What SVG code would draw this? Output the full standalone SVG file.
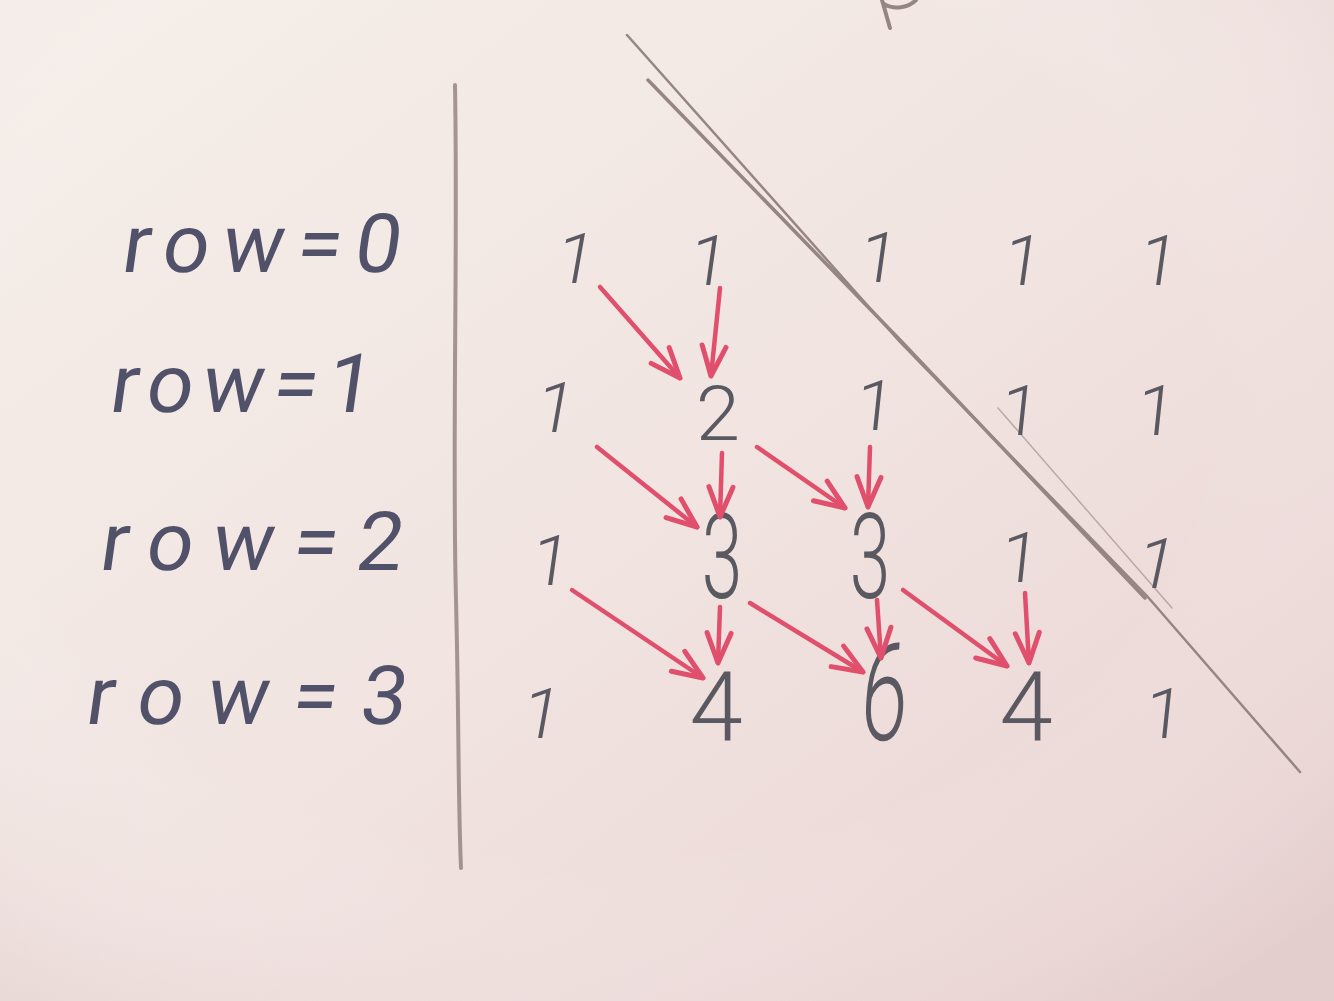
<svg xmlns="http://www.w3.org/2000/svg" width="1334" height="1001" viewBox="0 0 1334 1001">
<style>
.lbl{font-family:"Roboto","Open Sans","Liberation Sans",sans-serif;font-weight:400;font-size:82px;fill:#52516a;}
.num{font-family:"Roboto","Open Sans","Liberation Sans",sans-serif;font-weight:300;fill:#5a5962;text-anchor:middle;}
.one{font-size:70px;}
.pencil{fill:none;stroke:#958583;stroke-linecap:round;}
.arrow{fill:none;stroke:#e04f6c;stroke-width:4.5;stroke-linecap:round;stroke-linejoin:round;marker-end:url(#ah);}
</style>
<defs>
<linearGradient id="bg" x1="0" y1="0" x2="1" y2="1">
<stop offset="0" stop-color="#f5efea"/>
<stop offset="0.5" stop-color="#f1e4e1"/>
<stop offset="1" stop-color="#e9d2d2"/>
</linearGradient>
<radialGradient id="vig" cx="0.45" cy="0.4" r="0.75">
<stop offset="0.6" stop-color="#ffffff" stop-opacity="0"/>
<stop offset="1" stop-color="#d9c2c2" stop-opacity="0.35"/>
</radialGradient>
<marker id="ah" markerUnits="userSpaceOnUse" markerWidth="40" markerHeight="40" viewBox="-34 -16 40 32" refX="0" refY="0" orient="auto">
<path d="M-30,-12 L0,0 L-30,12" fill="none" stroke="#e04f6c" stroke-width="5" stroke-linecap="round" stroke-linejoin="round"/>
</marker>
</defs>
<rect width="1334" height="1001" fill="url(#bg)"/>
<rect width="1334" height="1001" fill="url(#vig)"/>

<g id="frame">
<path class="pencil" d="M455,85 C458,250 452,450 456,600 C459,720 458,800 461,868" stroke-width="4" opacity="0.85"/>
<path class="pencil" d="M627,35 L900,342 L1147,596 L1300,772" stroke-width="2.5"/>
<path class="pencil" d="M648,80 L900,340 L1145,598" stroke-width="3.5"/>
<path class="pencil" d="M998,408 L1172,608" stroke-width="1.5" opacity="0.6"/>
<path class="pencil" d="M882,0 L890,28 M884,4 C894,10 908,8 916,0" stroke="#7a6e6f" stroke-width="4"/>
</g>

<g id="labels">
<g id="label-row0"><text class="lbl" transform="translate(120,272) skewX(-8)" textLength="278" lengthAdjust="spacing">row=0</text></g>
<g id="label-row1"><text class="lbl" transform="translate(108,412) skewX(-8)" textLength="262" lengthAdjust="spacing">row=1</text></g>
<g id="label-row2"><text class="lbl" transform="translate(98,570) skewX(-8)" textLength="302" lengthAdjust="spacing">row=2</text></g>
<g id="label-row3"><text class="lbl" transform="translate(84,724) skewX(-8)" textLength="320" lengthAdjust="spacing">row=3</text></g>
</g>

<g id="row0">
<g id="r0c0"><text class="num one" transform="translate(572,283) skewX(-10)">1</text></g>
<g id="r0c1"><text class="num one" transform="translate(706,285) skewX(-8)">1</text></g>
<g id="r0c2"><text class="num one" transform="translate(876,282) skewX(-8)">1</text></g>
<g id="r0c3"><text class="num one" transform="translate(1020,285) skewX(-8)">1</text></g>
<g id="r0c4"><text class="num one" transform="translate(1156,285) skewX(-8)">1</text></g>
</g>
<g id="row1">
<g id="r1c0"><text class="num one" transform="translate(552,432) skewX(-10)">1</text></g>
<g id="r1c1"><text class="num" font-size="76" transform="translate(718,440) scale(1.05,1)">2</text></g>
<g id="r1c2"><text class="num one" transform="translate(873,430) skewX(-6)">1</text></g>
<g id="r1c3"><text class="num one" transform="translate(1018,435) skewX(-6)">1</text></g>
<g id="r1c4"><text class="num one" transform="translate(1154,435) skewX(-6)">1</text></g>
</g>
<g id="row2">
<g id="r2c0"><text class="num one" transform="translate(548,585) skewX(-8)">1</text></g>
<g id="r2c1"><text class="num" font-size="118" transform="translate(722,598) scale(0.62,1)">3</text></g>
<g id="r2c2"><text class="num" font-size="118" transform="translate(870,598) scale(0.62,1)">3</text></g>
<g id="r2c3"><text class="num one" transform="translate(1018,582) skewX(-6)">1</text></g>
<g id="r2c4"><text class="num one" transform="translate(1152,588) skewX(-12)">1</text></g>
</g>
<g id="row3">
<g id="r3c0"><text class="num one" transform="translate(538,738) skewX(-10)">1</text></g>
<g id="r3c1"><text class="num" font-size="96" transform="translate(716,740)">4</text></g>
<g id="r3c2"><text class="num" font-size="136" transform="translate(882,740) scale(0.62,1) skewX(-6)">6</text></g>
<g id="r3c3"><text class="num" font-size="96" transform="translate(1026,740)">4</text></g>
<g id="r3c4"><text class="num one" transform="translate(1162,738) skewX(-6)">1</text></g>
</g>

<g id="connectors">
<path class="arrow" d="M600,287 L680,378"/>
<path class="arrow" d="M720,288 L711,376"/>
<path class="arrow" d="M597,447 L697,527"/>
<path class="arrow" d="M722,453 L720,517"/>
<path class="arrow" d="M757,447 L845,508"/>
<path class="arrow" d="M870,447 L868,507"/>
<path class="arrow" d="M572,590 L703,678"/>
<path class="arrow" d="M720,607 L718,663"/>
<path class="arrow" d="M750,603 L863,672"/>
<path class="arrow" d="M877,600 L881,658"/>
<path class="arrow" d="M903,590 L1007,666"/>
<path class="arrow" d="M1025,593 L1029,663"/>
</g>
</svg>
